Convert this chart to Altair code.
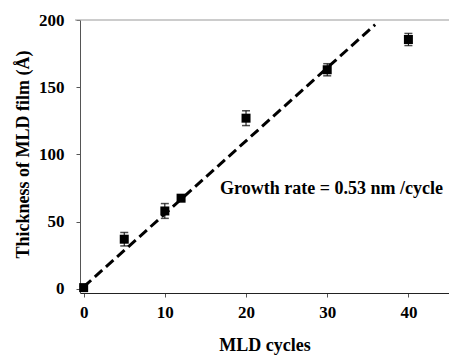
import altair as alt
import pandas as pd

cycles = [0, 5, 10, 12, 20, 30, 40]
thickness = [1, 37, 58, 67.5, 127, 163, 185.5]
err = [1, 5, 5.5, 1.5, 5.5, 4.5, 4.5]

fit_x = [0, 35.9]
fit_y = [1.5, 196.5]

label_text = "Growth rate = 0.53 nm /cycle"

df = pd.DataFrame({"x": cycles, "y": thickness, "lo": [a - b for a, b in zip(thickness, err)],
                   "hi": [a + b for a, b in zip(thickness, err)]})
fit = pd.DataFrame({"x": fit_x, "y": fit_y})

FONT = "Liberation Serif"
xs = alt.Scale(domain=[-0.45, 45], nice=False, zero=False)
ys = alt.Scale(domain=[-3, 200], nice=False, zero=False)

xax = alt.Axis(values=[0, 10, 20, 30, 40], title="MLD cycles", grid=False, tickSize=4,
               tickColor="#555", domainColor="#222", labelFont=FONT, labelFontSize=17,
               labelFontWeight="bold", labelColor="black", labelPadding=7,
               titleFont=FONT, titleFontSize=18, titleFontWeight="bold", titleColor="black",
               titleY=57, titleBaseline="alphabetic")
yax = alt.Axis(values=[0, 50, 100, 150, 200], title="Thickness of MLD film (Å)", grid=False,
               tickSize=4, tickColor="#555", domainColor="#555", labelFont=FONT, labelFontSize=17,
               labelFontWeight="bold", labelColor="black", labelPadding=12,
               titleFont=FONT, titleFontSize=18, titleFontWeight="bold", titleColor="black",
               titleAngle=-90, titleX=-52, titleY=134, titleAlign="center",
               titleBaseline="alphabetic")

top = alt.Chart(pd.DataFrame({"y": [200]})).mark_rule(color="#999", strokeWidth=1).encode(
    y=alt.Y("y:Q", scale=ys), x=alt.value(-5), x2=alt.value(369))

line = alt.Chart(fit).mark_line(color="black", strokeWidth=3, strokeDash=[10, 5]).encode(
    x=alt.X("x:Q", scale=xs, axis=xax), y=alt.Y("y:Q", scale=ys, axis=yax))

bars = alt.Chart(df).mark_rule(color="black", strokeWidth=1).encode(
    x=alt.X("x:Q", scale=xs), y=alt.Y("lo:Q", scale=ys), y2="hi:Q")
cap_lo = alt.Chart(df).mark_tick(color="black", orient="horizontal", size=8, thickness=1.5).encode(
    x=alt.X("x:Q", scale=xs), y=alt.Y("lo:Q", scale=ys))
cap_hi = alt.Chart(df).mark_tick(color="black", orient="horizontal", size=8, thickness=1.5).encode(
    x=alt.X("x:Q", scale=xs), y=alt.Y("hi:Q", scale=ys))
pts = alt.Chart(df).mark_point(shape="square", filled=True, color="black", size=81, opacity=1).encode(
    x=alt.X("x:Q", scale=xs), y=alt.Y("y:Q", scale=ys))

txt = alt.Chart(pd.DataFrame({"t": [label_text]})).mark_text(
    font=FONT, fontSize=18, fontWeight="bold", color="black", align="left", baseline="alphabetic"
).encode(text="t:N", x=alt.value(140), y=alt.value(174))

chart = alt.layer(line, top, bars, cap_lo, cap_hi, pts, txt).properties(
    width=369, height=273,
    autosize=alt.AutoSizeParams(type="none"),
    padding={"left": 80, "top": 20, "right": 0, "bottom": 62},
    background="white",
).configure_view(stroke=None)

chart.save("out.html", embed_options={"renderer": "svg", "actions": False})
